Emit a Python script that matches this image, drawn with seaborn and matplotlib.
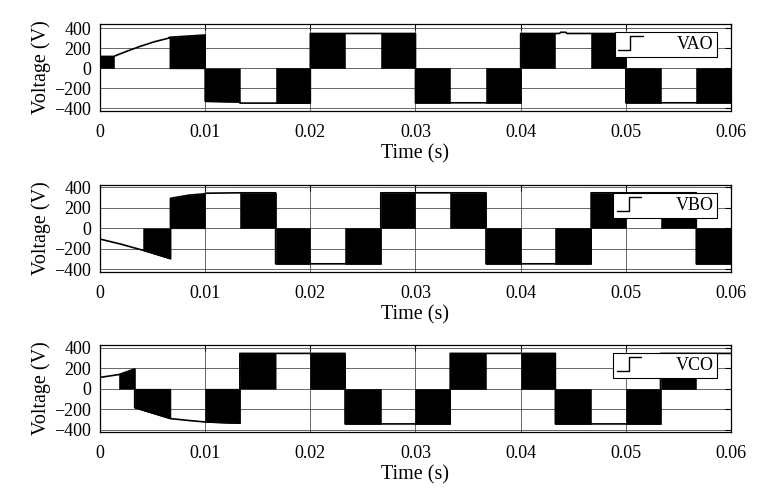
import numpy as np
import matplotlib
matplotlib.use("Agg")
import matplotlib.pyplot as plt
import seaborn as sns
from matplotlib.lines import Line2D
from matplotlib.legend_handler import HandlerLine2D

# envelope of each phase voltage (time in s, voltage in V), jumps are repeated times
vao_t = [0, 0.0013, 0.0025, 0.0038, 0.0052, 0.0066, 0.0066, 0.01, 0.01, 0.0133, 0.0133, 0.02,
         0.02, 0.03, 0.03, 0.04, 0.04, 0.0437, 0.0438, 0.0443, 0.0444, 0.05, 0.05, 0.06]
vao_v = [120, 120, 170, 220, 268, 305, 312, 335, -330, -336, -348, -348,
         350, 350, -345, -345, 350, 350, 362, 362, 350, 350, -345, -345]
# intervals where the leg is switching (drawn as solid black blocks)
vao_pwm = [(0, 0.0013), (0.0066, 0.0133), (0.0167, 0.0233), (0.0267, 0.0333),
           (0.0367, 0.0433), (0.0467, 0.0533), (0.0567, 0.06)]

vbo_t = [0, 0.002, 0.0041, 0.0067, 0.0067, 0.0085, 0.01, 0.01, 0.0133, 0.0167, 0.0167, 0.0267,
         0.0267, 0.0367, 0.0367, 0.0467, 0.0467, 0.0567, 0.0567, 0.06]
vbo_v = [-105, -155, -215, -297, 293, 325, 337, 343, 347, 347, -347, -347,
         347, 347, -347, -347, 347, 347, -347, -347]
vbo_pwm = [(0.0041, 0.01), (0.0133, 0.02), (0.0233, 0.03), (0.0333, 0.04),
           (0.0433, 0.05), (0.0533, 0.06)]

vco_t = [0, 0.0018, 0.0033, 0.0033, 0.0067, 0.0085, 0.01, 0.0133, 0.0133, 0.0233, 0.0233,
         0.0333, 0.0333, 0.0433, 0.0433, 0.0533, 0.0533, 0.06]
vco_v = [110, 138, 193, -186, -293, -312, -326, -338, 345, 345, -345,
         -345, 345, 345, -345, -345, 345, 345]
vco_pwm = [(0.0018, 0.0067), (0.01, 0.0167), (0.02, 0.0267), (0.03, 0.0367),
           (0.04, 0.0467), (0.05, 0.0567)]

names = ["VAO", "VBO", "VCO"]
x_ticks = [0, 0.01, 0.02, 0.03, 0.04, 0.05, 0.06]
x_tick_labels = ["0", "0.01", "0.02", "0.03", "0.04", "0.05", "0.06"]
y_ticks = [-400, -200, 0, 200, 400]
y_limits = [(-427, 445), (-427, 423), (-424, 427)]


class StepHandler(HandlerLine2D):
    # draws the little step icon used in the legend
    def create_artists(self, legend, orig_handle, xdescent, ydescent,
                       width, height, fontsize, trans):
        x0, y0 = -xdescent, -ydescent
        xs = [x0, x0 + width * 0.5, x0 + width * 0.5, x0 + width]
        ys = [y0, y0, y0 + height, y0 + height]
        line = Line2D(xs, ys, color="black", lw=1.0)
        line.set_transform(trans)
        return [line]


def clip_envelope(t, v, a, b):
    t = np.asarray(t, float)
    v = np.asarray(v, float)

    def lerp(k, x):
        return v[k - 1] + (v[k] - v[k - 1]) * (x - t[k - 1]) / (t[k] - t[k - 1])

    i = np.searchsorted(t, a, side="right")
    j = np.searchsorted(t, b, side="left")
    va = v[i - 1] if t[i - 1] == a else lerp(i, a)
    vb = v[j] if (j < len(t) and t[j] == b) else lerp(j, b)
    xs = [a] + list(t[i:j]) + [b]
    ys = [va] + list(v[i:j]) + [vb]
    return xs, ys


sns.set_theme(style="white", color_codes=False)
plt.rcParams["font.family"] = ["Liberation Serif", "DejaVu Serif"]
plt.rcParams["text.color"] = "black"

fig = plt.figure(figsize=(7.68, 4.95), dpi=100)
bottoms = [0.7758, 0.4505, 0.1273]
data = [(vao_t, vao_v, vao_pwm), (vbo_t, vbo_v, vbo_pwm), (vco_t, vco_v, vco_pwm)]

for k in range(3):
    ax = fig.add_axes([0.1302, bottoms[k], 0.8216, 0.1757])
    t, v, pwm = data[k]

    for a, b in pwm:
        xs, ys = clip_envelope(t, v, a, b)
        ax.fill_between(xs, 0, ys, color="#000000", lw=0.4, edgecolor="#000000")

    sns.lineplot(x=t, y=v, ax=ax, color="#000000", lw=1.2, sort=False,
                 estimator=None, label=names[k])

    ax.set_xlim(0, 0.06)
    ax.set_ylim(*y_limits[k])
    ax.set_xticks(x_ticks)
    ax.set_xticklabels(x_tick_labels)
    ax.set_yticks(y_ticks)
    ax.grid(True, color="#4d4d4d", lw=0.6)
    ax.set_axisbelow(True)
    for s in ax.spines.values():
        s.set_color("#000000")
        s.set_linewidth(0.9)
    ax.tick_params(axis="both", direction="in", top=True, right=True, length=4,
                   width=0.8, colors="#000000", labelsize=13)
    ax.tick_params(axis="x", pad=9.5)
    ax.tick_params(axis="y", pad=6.5)
    ax.set_xlabel("Time (s)", fontsize=14.5, labelpad=2, color="#000000")
    ax.set_ylabel("Voltage (V)", fontsize=14.5, labelpad=2, color="#000000")

    leg = ax.legend(handler_map={Line2D: StepHandler()}, loc="upper right",
                    bbox_to_anchor=(0.978, 0.908), borderaxespad=0, fancybox=False,
                    edgecolor="#000000", framealpha=1, fontsize=13, handlelength=1.35,
                    handleheight=0.85, handletextpad=1.9, borderpad=0.2,
                    labelcolor="#000000")
    leg.get_frame().set_linewidth(0.8)

fig.savefig("out.png", dpi=100)
